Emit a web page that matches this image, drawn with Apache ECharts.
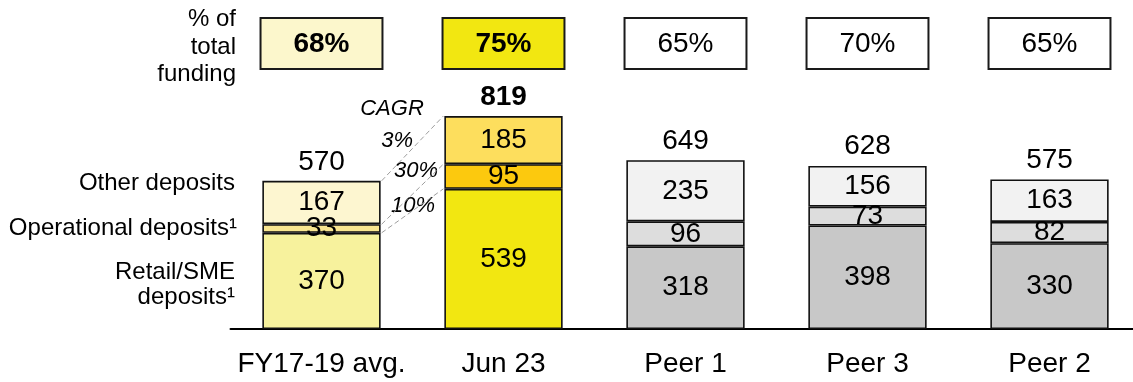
<!DOCTYPE html>
<html>
<head>
<meta charset="utf-8">
<script src="https://cdn.jsdelivr.net/npm/echarts@6/dist/echarts.min.js"></script>
<style>
  html, body { margin: 0; padding: 0; background: #fff; overflow: hidden; }
  /* the plot runs slightly past the right edge of the window, like the axis line */
  #chart { width: 1160px; height: 382px; }
</style>
</head>
<body>
<div id="chart"></div>
<script>
// Deposit mix by bank (in bn), stacked bottom to top
const categories = ['FY17-19 avg.', 'Jun 23', 'Peer 1', 'Peer 3', 'Peer 2'];
const retailSme = [370, 539, 318, 398, 330];
const operational = [33, 95, 96, 73, 82];
const otherDeposits = [167, 185, 235, 156, 163];
const totals = [570, 819, 649, 628, 575];
const fundingShare = ['68%', '75%', '65%', '70%', '65%'];
const cagrLabels = ['3%', '30%', '10%']; // other, operational, retail

// Fill colours per category for each segment
const retailColors = ['#F7F29D', '#F2E711', '#C8C8C8', '#C8C8C8', '#C8C8C8'];
const operationalColors = ['#F9E690', '#FCC90E', '#DDDDDD', '#DDDDDD', '#DDDDDD'];
const otherColors = ['#FDF6D0', '#FDDE5D', '#F2F2F2', '#F2F2F2', '#F2F2F2'];
const boxColors = ['#FCF7CC', '#F2E711', '#FFFFFF', '#FFFFFF', '#FFFFFF'];

const FONT = '"Liberation Sans", Arial, sans-serif';
const BAR_W = '65%';

function segment(values, colors) {
  return values.map((v, i) => ({ value: v, itemStyle: { color: colors[i] } }));
}

function stackedSeries(name, values, colors) {
  return {
    name: name,
    type: 'bar',
    stack: 'deposits',
    barWidth: BAR_W,
    barGap: '-100%',
    z: 3,
    itemStyle: { borderColor: '#111', borderWidth: 1.6 },
    label: {
      show: true,
      position: 'inside',
      color: '#000',
      fontSize: 28,
      fontFamily: FONT
    },
    emphasis: { disabled: true },
    data: segment(values, colors)
  };
}

const chart = echarts.init(document.getElementById('chart'), null, { renderer: 'canvas' });

const option = {
  animation: false,
  backgroundColor: '#fff',
  textStyle: { fontFamily: FONT },
  grid: { left: 230.5, width: 910, top: 69, bottom: 53, containLabel: false },
  xAxis: {
    type: 'category',
    data: categories,
    axisLine: { show: true, lineStyle: { color: '#000', width: 2 } },
    axisTick: { show: false },
    axisLabel: { color: '#000', fontSize: 28, fontFamily: FONT, margin: 21, interval: 0 },
    splitLine: { show: false }
  },
  yAxis: {
    type: 'value',
    min: 0,
    max: 1000,
    show: false,
    splitLine: { show: false }
  },
  series: [
    stackedSeries('Retail/SME deposits', retailSme, retailColors),
    stackedSeries('Operational deposits', operational, operationalColors),
    stackedSeries('Other deposits', otherDeposits, otherColors),
    {
      // invisible overlay carrying the total above each bar
      name: 'Total',
      type: 'bar',
      barWidth: BAR_W,
      barGap: '-100%',
      z: 2,
      itemStyle: { color: 'rgba(0,0,0,0)' },
      label: {
        show: true,
        position: 'top',
        distance: 5,
        color: '#000',
        fontSize: 28,
        fontFamily: FONT
      },
      emphasis: { disabled: true },
      data: totals.map((v, i) => ({
        value: v,
        label: { fontWeight: i === 1 ? 'bold' : 'normal' }
      }))
    },
    {
      // "% of total funding" boxes above each bar
      name: 'Funding share',
      type: 'custom',
      z: 5,
      data: categories.map((c, i) => [i]),
      renderItem: function (params, api) {
        const i = api.value(0);
        const cx = api.coord([i, 0])[0];
        const topY = api.coord([i, 1000])[1];
        const w = api.size([1, 0])[0] * 0.67;
        const h = 51;
        const y = topY - h;
        return {
          type: 'group',
          children: [
            {
              type: 'rect',
              shape: { x: cx - w / 2, y: y, width: w, height: h },
              style: { fill: boxColors[i], stroke: '#1a1a1a', lineWidth: 2 }
            },
            {
              type: 'text',
              style: {
                text: fundingShare[i],
                x: cx,
                y: y + h / 2 + 1,
                align: 'center',
                verticalAlign: 'middle',
                fontSize: 28,
                fontWeight: i < 2 ? 'bold' : 'normal',
                fontFamily: FONT,
                fill: '#000'
              }
            }
          ]
        };
      }
    },
    {
      // dashed connectors between the first two bars
      name: 'CAGR',
      type: 'custom',
      z: 1,
      data: [[0]],
      renderItem: function (params, api) {
        const bw = api.size([1, 0])[0] * 0.65;
        const x0 = api.coord([0, 0])[0] + bw / 2;
        const x1 = api.coord([1, 0])[0] - bw / 2;
        const levels0 = [retailSme[0], retailSme[0] + operational[0], retailSme[0] + operational[0] + otherDeposits[0]];
        const levels1 = [retailSme[1], retailSme[1] + operational[1], retailSme[1] + operational[1] + otherDeposits[1]];
        const children = levels0.map((v, k) => ({
          type: 'line',
          shape: {
            x1: x0 + 1, y1: api.coord([0, v])[1],
            x2: x1 - 1, y2: api.coord([1, levels1[k]])[1]
          },
          style: { stroke: '#9E9E9E', lineWidth: 1, lineDash: [5, 3] }
        }));
        return { type: 'group', children: children };
      }
    }
  ],
  graphic: [
    {
      type: 'text',
      x: 236, y: 47,
      style: {
        text: '% of\ntotal\nfunding',
        align: 'right',
        verticalAlign: 'middle',
        fontSize: 24,
        lineHeight: 27.5,
        fontFamily: FONT,
        fill: '#000'
      }
    },
    {
      type: 'text',
      x: 235, y: 183,
      style: { text: 'Other deposits', align: 'right', verticalAlign: 'middle', fontSize: 24, fontFamily: FONT, fill: '#000' }
    },
    {
      type: 'text',
      x: 237, y: 228,
      style: { text: 'Operational deposits\u00B9', align: 'right', verticalAlign: 'middle', fontSize: 24, fontFamily: FONT, fill: '#000' }
    },
    {
      type: 'text',
      x: 235, y: 285,
      style: { text: 'Retail/SME\ndeposits\u00B9', align: 'right', verticalAlign: 'middle', fontSize: 24, lineHeight: 25, fontFamily: FONT, fill: '#000' }
    },
    {
      type: 'text',
      x: 392, y: 109,
      style: { text: 'CAGR', align: 'center', verticalAlign: 'middle', fontSize: 22, fontStyle: 'italic', fontFamily: FONT, fill: '#000' }
    },
    {
      type: 'text',
      x: 413, y: 141,
      style: { text: cagrLabels[0], align: 'right', verticalAlign: 'middle', fontSize: 22, fontStyle: 'italic', fontFamily: FONT, fill: '#000' }
    },
    {
      type: 'text',
      x: 438, y: 171,
      style: { text: cagrLabels[1], align: 'right', verticalAlign: 'middle', fontSize: 22, fontStyle: 'italic', fontFamily: FONT, fill: '#000' }
    },
    {
      type: 'text',
      x: 435, y: 206,
      style: { text: cagrLabels[2], align: 'right', verticalAlign: 'middle', fontSize: 22, fontStyle: 'italic', fontFamily: FONT, fill: '#000' }
    }
  ]
};

chart.setOption(option);
</script>
</body>
</html>
